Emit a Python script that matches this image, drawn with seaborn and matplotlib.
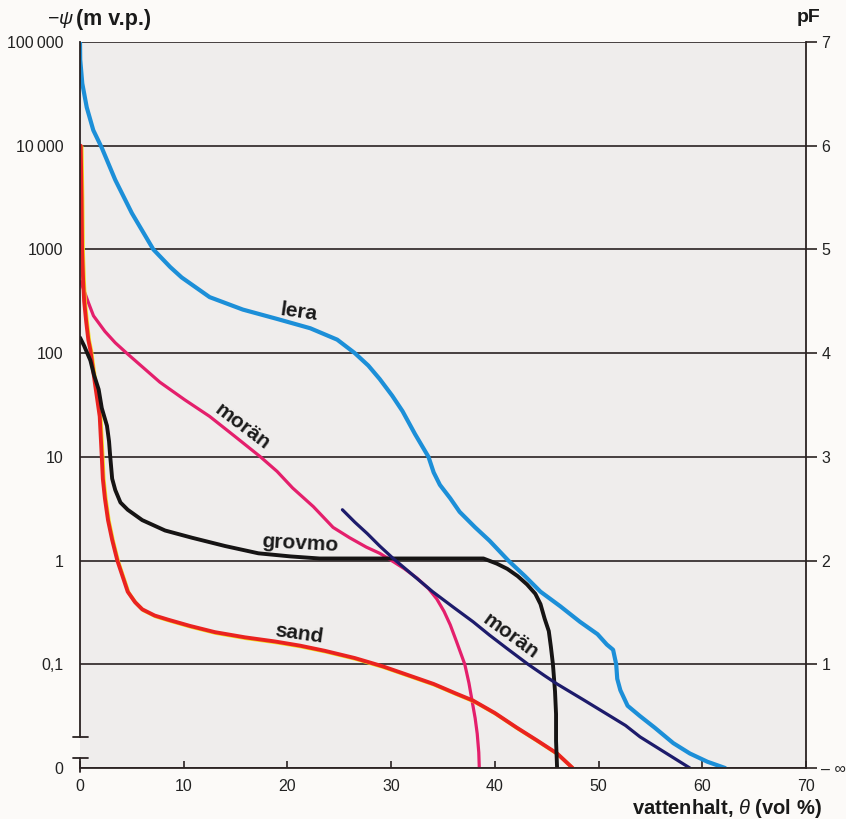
import matplotlib
matplotlib.use("Agg")
import matplotlib.pyplot as plt
import seaborn as sns
from matplotlib.transforms import offset_copy

# Water retention curves: water content (vol %) against suction, stored as pF
lera_x = [0, 0.02, 0.22, 0.65, 1.28, 2.1, 3.4, 5.0, 7.07, 8.7, 9.8, 12.5, 15.7, 19.0,
          22.2, 24.8, 26.5, 27.8, 28.9, 30.1, 31.1, 32.3, 33.6, 34.1, 34.7, 35.7,
          36.6, 38.1, 39.5, 41.3, 42.9, 44.4, 46.3, 48.2, 49.9, 50.8, 51.4, 51.7,
          51.8, 52.1, 52.8, 54.0, 55.4, 57.2, 58.8, 60.5, 62.2]
lera_pf = [7.0, 6.83, 6.6, 6.37, 6.15, 5.98, 5.67, 5.35, 5.0, 4.83, 4.73, 4.54, 4.42,
           4.33, 4.24, 4.13, 4.0, 3.88, 3.75, 3.59, 3.44, 3.22, 3.0, 2.85, 2.73,
           2.6, 2.47, 2.32, 2.19, 2.0, 1.85, 1.7, 1.56, 1.41, 1.29, 1.19, 1.14,
           1.0, 0.86, 0.75, 0.6, 0.5, 0.39, 0.24, 0.14, 0.06, 0.0]

sand_x = [0.07, 0.15, 0.2, 0.3, 0.4, 0.6, 0.8, 1.0, 1.45, 1.9, 2.1, 2.2, 2.4, 2.7,
          3.1, 3.6, 4.1, 4.6, 5.3, 6.0, 7.2, 8.5, 10.6, 13.0, 15.9, 18.8, 21.2,
          23.6, 26.5, 29.2, 31.8, 34.1, 36.2, 37.9, 40.0, 42.1, 44.0, 46.0, 47.5]
sand_pf = [6.0, 5.5, 5.0, 4.7, 4.5, 4.3, 4.13, 4.03, 3.7, 3.39, 3.0, 2.79, 2.6, 2.39,
           2.2, 2.0, 1.85, 1.7, 1.6, 1.53, 1.47, 1.43, 1.37, 1.31, 1.26, 1.22, 1.18,
           1.13, 1.06, 0.98, 0.89, 0.81, 0.72, 0.65, 0.53, 0.39, 0.27, 0.14, 0.0]

moran1_x = [0.07, 0.4, 0.8, 1.3, 2.4, 3.4, 4.5, 6.1, 7.7, 10.1, 12.5, 14.9, 17.4,
            19.0, 20.5, 22.5, 24.4, 26.0, 27.6, 28.9, 30.2, 31.3, 32.5, 33.6, 34.4,
            35.1, 35.7, 36.3, 37.1, 37.5, 37.8, 38.1, 38.3, 38.45, 38.5]
moran1_pf = [4.69, 4.6, 4.49, 4.36, 4.21, 4.1, 4.0, 3.86, 3.72, 3.55, 3.39, 3.2, 3.0,
             2.86, 2.7, 2.52, 2.32, 2.22, 2.13, 2.07, 1.99, 1.92, 1.83, 1.73, 1.63,
             1.51, 1.38, 1.22, 1.0, 0.82, 0.65, 0.48, 0.33, 0.15, 0.0]

grovmo_x = [0, 0.4, 1.0, 1.35, 1.8, 2.1, 2.6, 2.8, 2.9, 3.1, 3.4, 3.9, 4.6, 6.0, 8.2,
            10.8, 14.0, 17.2, 20.3, 23.1, 30.0, 38.9, 40.2, 41.2, 42.2, 43.1, 43.9,
            44.4, 44.8, 45.2, 45.4, 45.6, 45.8, 45.9, 45.9, 46.0]
grovmo_pf = [4.15, 4.07, 3.93, 3.79, 3.65, 3.47, 3.3, 3.15, 3.02, 2.79, 2.68, 2.56,
             2.49, 2.39, 2.29, 2.22, 2.14, 2.07, 2.04, 2.02, 2.02, 2.02, 1.97, 1.92,
             1.85, 1.77, 1.68, 1.58, 1.44, 1.32, 1.17, 1.0, 0.74, 0.52, 0.26, 0.0]

moran2_x = [25.3, 26.5, 27.7, 28.9, 30.2, 32.1, 34.0, 36.0, 37.9, 39.5, 41.2, 43.2,
            44.8, 46.0, 48.5, 50.8, 52.6, 54.0, 56.4, 58.8]
moran2_pf = [2.49, 2.37, 2.26, 2.14, 2.02, 1.86, 1.70, 1.55, 1.41, 1.28, 1.15, 1.0,
             0.89, 0.81, 0.66, 0.52, 0.41, 0.30, 0.15, 0.0]

pf_ticks = [0, 1, 2, 3, 4, 5, 6, 7]
psi_labels = ["0", "0,1", "1", "10", "100", "1000", "10\u2009000", "100\u2009000"]
pf_labels = ["\u2013 \u221e", "1", "2", "3", "4", "5", "6", "7"]
x_ticks = [0, 10, 20, 30, 40, 50, 60, 70]

sns.set_theme(style="white")
plt.rcParams["font.family"] = ["Liberation Sans", "DejaVu Sans"]
plt.rcParams["mathtext.fontset"] = "custom"
plt.rcParams["mathtext.it"] = "Liberation Sans:italic"
plt.rcParams["mathtext.rm"] = "Liberation Sans"

ink = "#2a2222"
fig = plt.figure(figsize=(8.46, 8.19), dpi=100, facecolor="#fcfaf8")
ax = fig.add_axes([80 / 846, 1 - 768 / 819, 726 / 846, 726 / 819])
ax.set_facecolor("#efedec")

# curves
kw = dict(sort=False, estimator=None, ax=ax)
sns.lineplot(x=lera_x, y=lera_pf, color="#1c8fd8", lw=3.0, **kw)
sns.lineplot(x=moran1_x, y=moran1_pf, color="#e41f6c", lw=2.3, **kw)
sns.lineplot(x=sand_x, y=sand_pf, color="#f2df1c", lw=2.6, **kw)
ax.lines[-1].set_transform(offset_copy(ax.transData, fig=fig, x=1.0, y=-1.0, units="dots"))
sns.lineplot(x=sand_x, y=sand_pf, color="#ea2320", lw=2.8, **kw)
sns.lineplot(x=grovmo_x, y=grovmo_pf, color="#161414", lw=2.8, **kw)
sns.lineplot(x=moran2_x, y=moran2_pf, color="#1d1b6b", lw=2.3, **kw)
for ln in ax.lines:
    ln.set_solid_joinstyle("round")

ax.set_xlim(0, 70)
ax.set_ylim(0, 7)
ax.set_xticks(x_ticks)
ax.set_xticklabels([str(v) for v in x_ticks])
ax.set_yticks(pf_ticks)
ax.set_yticklabels(psi_labels)
ax.set_xlabel("")
ax.set_ylabel("")

ax.yaxis.grid(True, color=ink, lw=1.2)
ax.xaxis.grid(False)
ax.set_axisbelow(True)

for side in ["left", "bottom"]:
    ax.spines[side].set_visible(True)
    ax.spines[side].set_color(ink)
    ax.spines[side].set_linewidth(1.3)
ax.spines["top"].set_visible(False)
ax.spines["right"].set_visible(False)

# broken left axis between 0,1 and 0
ax.spines["left"].set_bounds(0.3, 7)
ax.plot([0, 0], [-0.04, 0.095], color=ink, lw=1.3, clip_on=False)
ax.plot([-0.7, 0.8], [0.3, 0.3], color=ink, lw=1.3, clip_on=False)
ax.plot([-0.7, 0.8], [0.095, 0.095], color=ink, lw=1.3, clip_on=False)

ax.tick_params(axis="y", direction="out", length=8, width=1.2, color=ink,
               labelsize=11.5, labelcolor="#222", pad=4)
ax.tick_params(axis="x", direction="in", length=5, width=1.2, color=ink,
               labelsize=11.5, labelcolor="#222", pad=8, bottom=True)

sec = ax.secondary_yaxis("right")
sec.set_yticks(pf_ticks)
sec.set_yticklabels(pf_labels)
sec.spines["right"].set_color(ink)
sec.spines["right"].set_linewidth(1.3)
sec.tick_params(direction="out", length=8, width=1.2, color=ink,
                labelsize=11.5, labelcolor="#222", pad=3)

# curve names
lab = dict(fontsize=15, fontweight="bold", color="#1a1a1a", ha="center", va="center",
           rotation_mode="anchor")
ax.text(21.1, 4.40, "lera", rotation=-8, **lab)
ax.text(15.7, 3.29, "morän", rotation=-37, **lab)
ax.text(21.2, 2.16, "grovmo", rotation=-3, **lab)
ax.text(21.1, 1.29, "sand", rotation=-8, **lab)
ax.text(41.5, 1.27, "morän", rotation=-36, **lab)

# axis titles
fig.text(47 / 846, 1 - 20 / 819, "\u2212$\\psi$", fontsize=14, color="#1a1a1a",
         ha="left", va="center")
fig.text(76 / 846, 1 - 20 / 819, "(m v.p.)", fontsize=15.5, fontweight="bold",
         color="#1a1a1a", ha="left", va="center")
fig.text(820 / 846, 1 - 17 / 819, "pF", fontsize=14, fontweight="bold",
         color="#1a1a1a", ha="right", va="center")
fig.text(822 / 846, 1 - 808 / 819, "vattenhalt, $\\theta$ (vol %)", fontsize=14.5,
         fontweight="bold", color="#1a1a1a", ha="right", va="center")

fig.savefig("out.png", dpi=100, facecolor=fig.get_facecolor())
